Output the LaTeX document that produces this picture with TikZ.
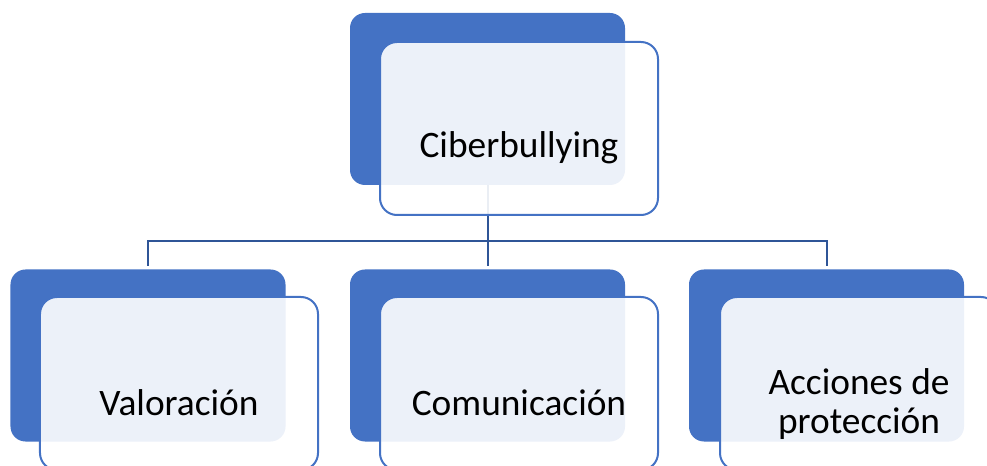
\documentclass[tikz,border=0pt]{standalone}
\usepackage{fontspec}
\setmainfont{Carlito}
\definecolor{boxblue}{HTML}{4472C4}
\definecolor{connblue}{HTML}{2F5597}
\tikzset{
  darkbox/.style={rectangle, rounded corners=15bp, fill=boxblue, draw=none,
    minimum width=275bp, minimum height=172bp, inner sep=0pt, outer sep=0pt},
  frontbox/.style={rectangle, rounded corners=17bp, fill=white, fill opacity=0.9,
    draw=boxblue, line width=2bp,
    minimum width=278bp, minimum height=173bp, inner sep=0pt, outer sep=0pt},
  lbl/.style={font=\fontsize{37.5}{38.5}\selectfont, text=black, inner sep=0pt, align=center, anchor=base},
  conn/.style={draw=connblue, line width=2bp}
}
\begin{document}
\begin{tikzpicture}[x=1bp,y=-1bp]
\useasboundingbox (0,0) rectangle (987,466);
\clip (0,0) rectangle (987,466);
\coordinate (bus) at (487.5,241.5);
% back (dark) boxes
\node[darkbox] (topdark) at (487.5,99) {};
\node[darkbox] (c1dark) at (148,355.5) {};
\node[darkbox] (c2dark) at (487.5,355.5) {};
\node[darkbox] (c3dark) at (826.5,355.5) {};
% connectors
\draw[conn] (topdark.south) -- (bus);
\draw[conn, shorten >=3bp] (bus) -| (c1dark.north);
\draw[conn, shorten >=3bp] (bus) -- (c2dark.north);
\draw[conn, shorten >=3bp] (bus) -| (c3dark.north);
% front boxes
\node[frontbox] (topfront) at (519,128.5) {};
\node[frontbox] (c1front) at (179,383.5) {};
\node[frontbox] (c2front) at (519,383.5) {};
\node[frontbox] (c3front) at (859,383.5) {};
% labels
\node[lbl] (tl) at (519,158) {Ciberbullying};
\node[lbl] (l1) at (179,415) {Valoración};
\node[lbl] (l2) at (519,415) {Comunicación};
\node[lbl] (l3) at (859,433) {Acciones de\\protección};
\end{tikzpicture}
\end{document}
